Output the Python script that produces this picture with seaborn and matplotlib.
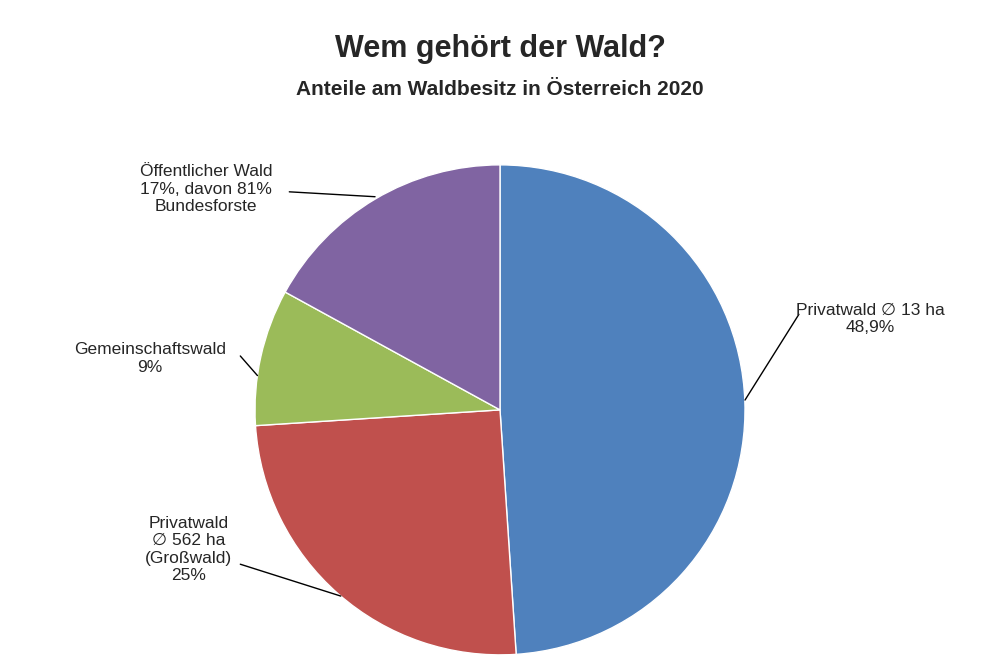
import matplotlib
matplotlib.use("Agg")
import matplotlib.pyplot as plt
import seaborn as sns

categories = ["Privatwald ∅ 13 ha\n48,9%", "Privatwald\n∅ 562 ha\n(Großwald)\n25%",
              "Gemeinschaftswald\n9%", "Öffentlicher Wald\n17%, davon 81%\nBundesforste"]
values = [48.9, 25, 9, 17]
colors = ["#4F81BD", "#C0504D", "#9BBB59", "#8064A2"]

sns.set_theme(style="white")
plt.rcParams["font.family"] = ["Liberation Sans", "DejaVu Sans"]

fig = plt.figure(figsize=(10, 6.67), dpi=100)
ax = fig.add_axes([0.255, 0.018, 0.49, 0.735])
ax.pie(values, colors=colors, startangle=90, counterclock=False, radius=1,
       wedgeprops=dict(edgecolor="white", linewidth=1))
ax.set_xlim(-1, 1); ax.set_ylim(-1, 1); ax.set_aspect("equal")

# label positions (text anchor, line end, wedge point)
label_specs = [
    ((1.51, 0.37), (1.22, 0.39), (1.0, 0.04), "center"),
    ((-1.27, -0.57), (-1.06, -0.63), (-0.65, -0.76), "center"),
    ((-1.43, 0.21), (-1.06, 0.22), (-0.99, 0.14), "center"),
    ((-1.2, 0.90), (-0.86, 0.89), (-0.51, 0.87), "center"),
]
for text, (tp, lp, wp, ha) in zip(categories, label_specs):
    ax.plot([wp[0], lp[0]], [wp[1], lp[1]], color="black", lw=1, clip_on=False)
    ax.text(tp[0], tp[1], text, ha=ha, va="center", fontsize=12.5, linespacing=1.2)

fig.text(0.5, 0.915, "Wem gehört der Wald?", ha="center", fontsize=22, fontweight="bold")
fig.text(0.5, 0.858, "Anteile am Waldbesitz in Österreich 2020", ha="center", fontsize=15, fontweight="bold")
fig.savefig("out.png", dpi=100)
